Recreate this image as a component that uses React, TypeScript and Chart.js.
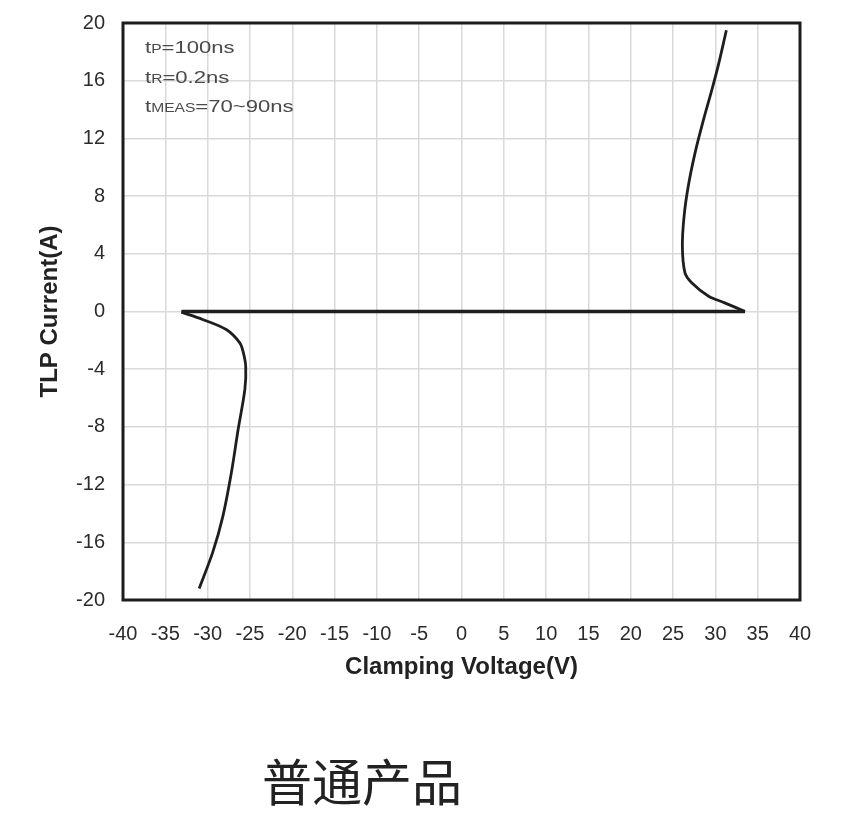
import React, { useEffect, useRef } from "react";
import { Chart, registerables } from "chart.js";

Chart.register(...registerables);

// Tick ranges
const xMin = -40;
const xMax = 40;
const xStep = 5;
const yMin = -20;
const yMax = 20;
const yStep = 4;

// Negative branch (Clamping Voltage V, TLP Current A), from bottom up to its tip
const negV = [-31.0, -29.4, -28.2, -27.2, -26.4, -25.6, -25.5, -25.8, -26.2, -27.8, -30.6, -33.1];
const negI = [-19.2, -16.7, -14.2, -11.2, -8.2, -5.4, -3.8, -2.8, -2.17, -1.25, -0.55, -0.05];
// Zero-current line between the two tips
const flatV = [-33.1, 33.5];
const flatI = [0, 0];
// Positive branch, from its tip up
const posV = [33.5, 31.1, 29.2, 27.2, 26.4, 26.1, 26.3, 26.8, 27.6, 28.6, 29.6, 30.4, 31.3];
const posI = [0.0, 0.6, 1.06, 2.0, 2.7, 4.5, 6.6, 8.7, 11.0, 13.3, 15.4, 17.2, 19.5];

const xTitle = "Clamping Voltage(V)";
const yTitle = "TLP Current(A)";
const caption = "普通产品";
// annotation lines: [main, subscript, rest]
const noteLines: [string, string, string][] = [
  ["t", "P", "=100ns"],
  ["t", "R", "=0.2ns"],
  ["t", "MEAS", "=70~90ns"],
];

const decorPlugin = {
  id: "decor",
  afterDatasetsDraw(chart: any) {
    const { ctx, chartArea } = chart;
    ctx.save();
    // border
    ctx.strokeStyle = "#1c1c1c";
    ctx.lineWidth = 3;
    ctx.strokeRect(
      chartArea.left,
      chartArea.top,
      chartArea.right - chartArea.left,
      chartArea.bottom - chartArea.top
    );
    // notes (horizontally widened like the reference)
    const x0 = chartArea.left + 22;
    let y = 53;
    ctx.fillStyle = "#4a4a4a";
    ctx.textBaseline = "alphabetic";
    ctx.textAlign = "left";
    for (const [a, sub, rest] of noteLines) {
      ctx.save();
      ctx.translate(x0, y);
      ctx.scale(1.3, 1);
      let x = 0;
      ctx.font = '17px "Liberation Sans", Arial, sans-serif';
      ctx.fillText(a, x, 0);
      x += ctx.measureText(a).width;
      ctx.font = '12px "Liberation Sans", Arial, sans-serif';
      ctx.fillText(sub, x, 0);
      x += ctx.measureText(sub).width;
      ctx.font = '17px "Liberation Sans", Arial, sans-serif';
      ctx.fillText(rest, x, 0);
      ctx.restore();
      y += 29.5;
    }
    // caption
    ctx.fillStyle = "#222";
    ctx.font = '50px "Noto Sans CJK SC", sans-serif';
    ctx.textAlign = "center";
    ctx.textBaseline = "middle";
    ctx.fillText(caption, 362, 782);
    ctx.restore();
  },
};

export default function App() {
  const ref = useRef<HTMLCanvasElement>(null);
  useEffect(() => {
    if (!ref.current) return;
    const pts = (vs: number[], is: number[]) => vs.map((v, i) => ({ x: v, y: is[i] }));
    const tickFont = { family: '"Liberation Sans", Arial, sans-serif', size: 20 };
    const titleFont = { family: '"Liberation Sans", Arial, sans-serif', size: 24, weight: "bold" as const };
    const line = { showLine: true, borderColor: "#1e1e1e", pointRadius: 0 };
    const chart = new Chart(ref.current, {
      type: "scatter",
      data: {
        datasets: [
          { ...line, data: pts(negV, negI), borderWidth: 2.8, tension: 0.3 },
          { ...line, data: pts(flatV, flatI), borderWidth: 3.6, tension: 0 },
          { ...line, data: pts(posV, posI), borderWidth: 2.8, tension: 0.3 },
        ],
      },
      options: {
        responsive: false,
        animation: false,
        layout: { padding: { top: 23, right: 51, left: 0, bottom: 133 } },
        plugins: { legend: { display: false }, tooltip: { enabled: false } },
        scales: {
          x: {
            type: "linear",
            min: xMin,
            max: xMax,
            afterFit: (s: any) => {
              s.height = 100;
              s.paddingLeft = 0;
              s.paddingRight = 0;
              s.paddingTop = 0;
              s.paddingBottom = 0;
            },
            ticks: { stepSize: xStep, color: "#2b2b2b", font: tickFont, padding: 22, maxRotation: 0, autoSkip: false },
            grid: { color: "#d9d9d9", lineWidth: 1.5, drawTicks: false },
            border: { display: false },
            title: { display: true, text: xTitle, color: "#222", font: titleFont, padding: { top: 0, bottom: 18 } },
          },
          y: {
            type: "linear",
            min: yMin,
            max: yMax,
            afterFit: (s: any) => {
              s.width = 123;
              s.paddingTop = 0;
              s.paddingBottom = 0;
              s.paddingLeft = 0;
              s.paddingRight = 0;
            },
            ticks: { stepSize: yStep, color: "#2b2b2b", font: tickFont, padding: 18 },
            grid: { color: "#d9d9d9", lineWidth: 1.5, drawTicks: false },
            border: { display: false },
            title: { display: true, text: yTitle, color: "#222", font: titleFont, padding: { top: 36, bottom: 0 } },
          },
        },
      },
      plugins: [decorPlugin],
    });
    return () => chart.destroy();
  }, []);
  return (
    <div style={{ position: "absolute", left: 0, top: 0, width: 851, height: 833, background: "#fff" }}>
      <canvas ref={ref} width={851} height={833} style={{ display: "block" }} />
    </div>
  );
}
